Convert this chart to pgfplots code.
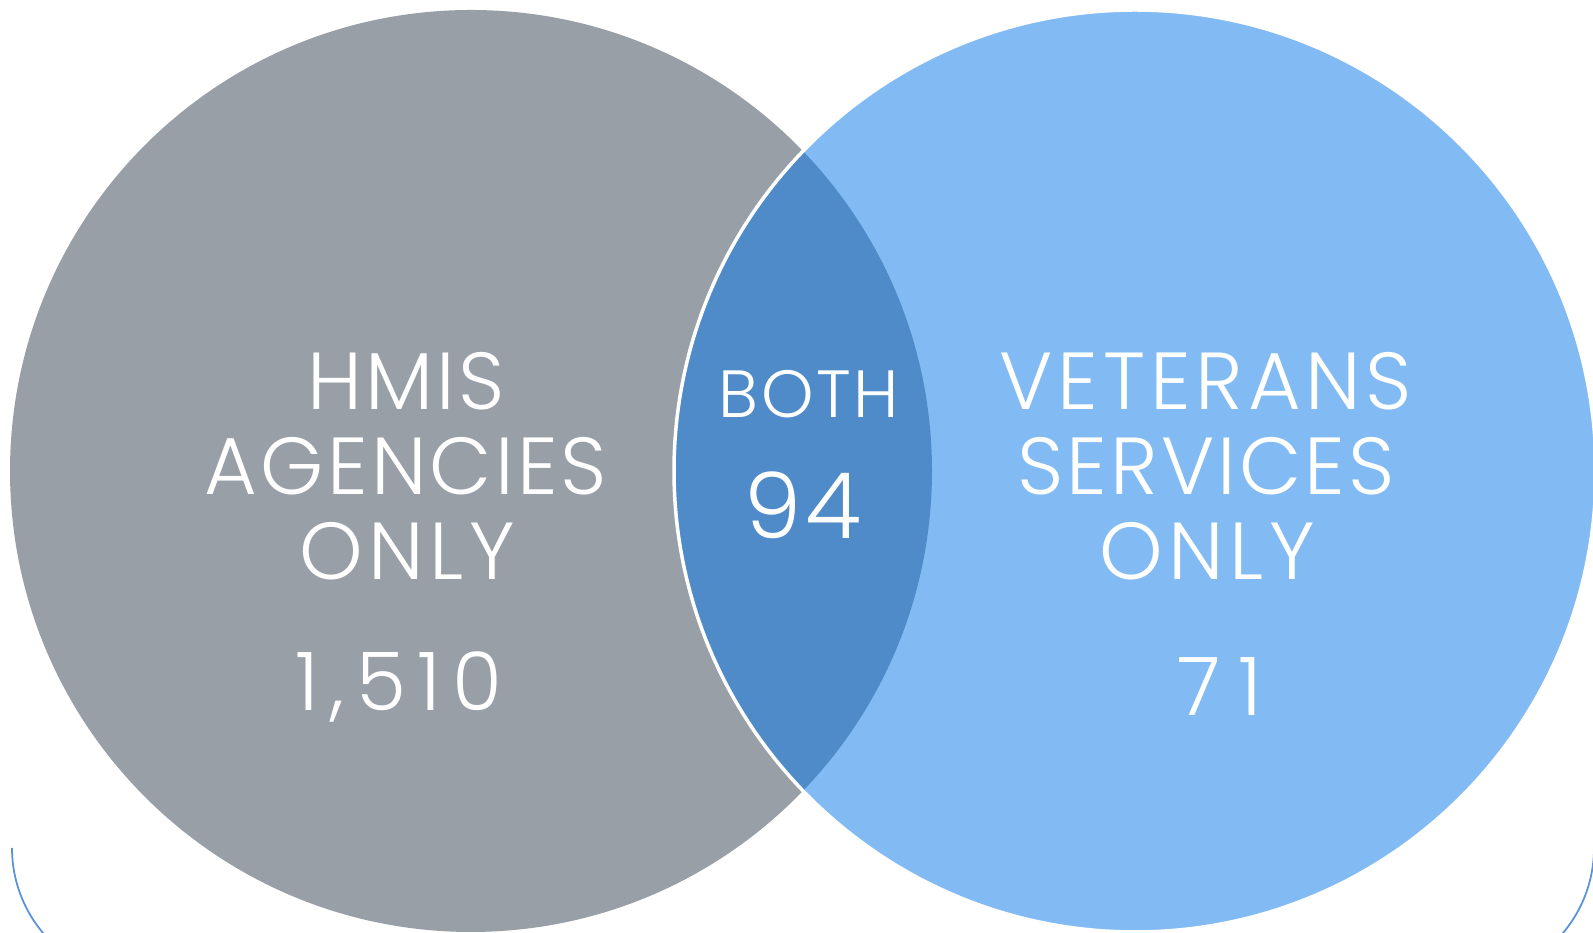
\documentclass[border=0pt]{standalone}
\usepackage{pgfplots}
\pgfplotsset{compat=1.18}
\usepackage{fontspec}
\setmainfont{Poppins}[UprightFont=* Light, LetterSpace=4]
\newfontfamily\numfont{Poppins}[UprightFont=* Light, LetterSpace=14]
\definecolor{cgray}{RGB}{152,159,167}
\definecolor{clight}{RGB}{130,187,243}
\definecolor{cdark}{RGB}{79,139,200}
\definecolor{carc}{RGB}{90,145,220}
\begin{document}
\begin{tikzpicture}
\path[use as bounding box] (0,0) rectangle (15.93cm,9.33cm);
\begin{axis}[at={(0,0)},anchor=south west,
  scale only axis, width=15.93cm, height=9.33cm,
  xmin=0, xmax=1593, ymin=0, ymax=933,
  hide axis, clip=true]
% circles (centres in pixel units, y upward), radius 461 px = 4.61cm
\fill[cgray] (axis cs:471,462) circle[radius=4.61cm];
\fill[clight] (axis cs:1135,462) circle[radius=4.61cm];
\begin{scope}
\clip (axis cs:471,462) circle[radius=4.61cm];
\fill[cdark] (axis cs:1135,462) circle[radius=4.61cm];
\end{scope}
\draw[white, line width=1pt] (axis cs:1135,462) circle[radius=4.61cm];
% corner arcs
\draw[carc, line width=0.5pt] (axis cs:12,85) arc[start angle=180, end angle=222, radius=1.32cm];
\draw[carc, line width=0.5pt] (axis cs:1594,85) arc[start angle=0, end angle=-42, radius=1.32cm];
% labels
\begin{scope}[every node/.style={text=white, font=\fontsize{23}{23}\selectfont, inner sep=0pt}]
\node at (axis cs:406,552) {HMIS};
\node at (axis cs:406,467) {AGENCIES};
\node[font=\addfontfeatures{LetterSpace=7}\fontsize{23}{23}\selectfont] at (axis cs:407,382) {ONLY};
\node[font=\numfont\fontsize{23}{23}\selectfont] at (axis cs:399,246) {1,510};
\node[font=\addfontfeatures{LetterSpace=6}\fontsize{23}{23}\selectfont] at (axis cs:1206,552) {VETERANS};
\node at (axis cs:1206,467) {SERVICES};
\node[font=\addfontfeatures{LetterSpace=7}\fontsize{23}{23}\selectfont] at (axis cs:1207,382) {ONLY};
\node[font=\numfont\fontsize{23}{23}\selectfont] at (axis cs:1220,246) {7\kern0.22em 1};
\node[font=\fontsize{19}{19}\selectfont] at (axis cs:809,539) {BOTH};
\node[font=\fontsize{26}{26}\selectfont] at (axis cs:803,428) {94};
\end{scope}
\end{axis}
\end{tikzpicture}
\end{document}
